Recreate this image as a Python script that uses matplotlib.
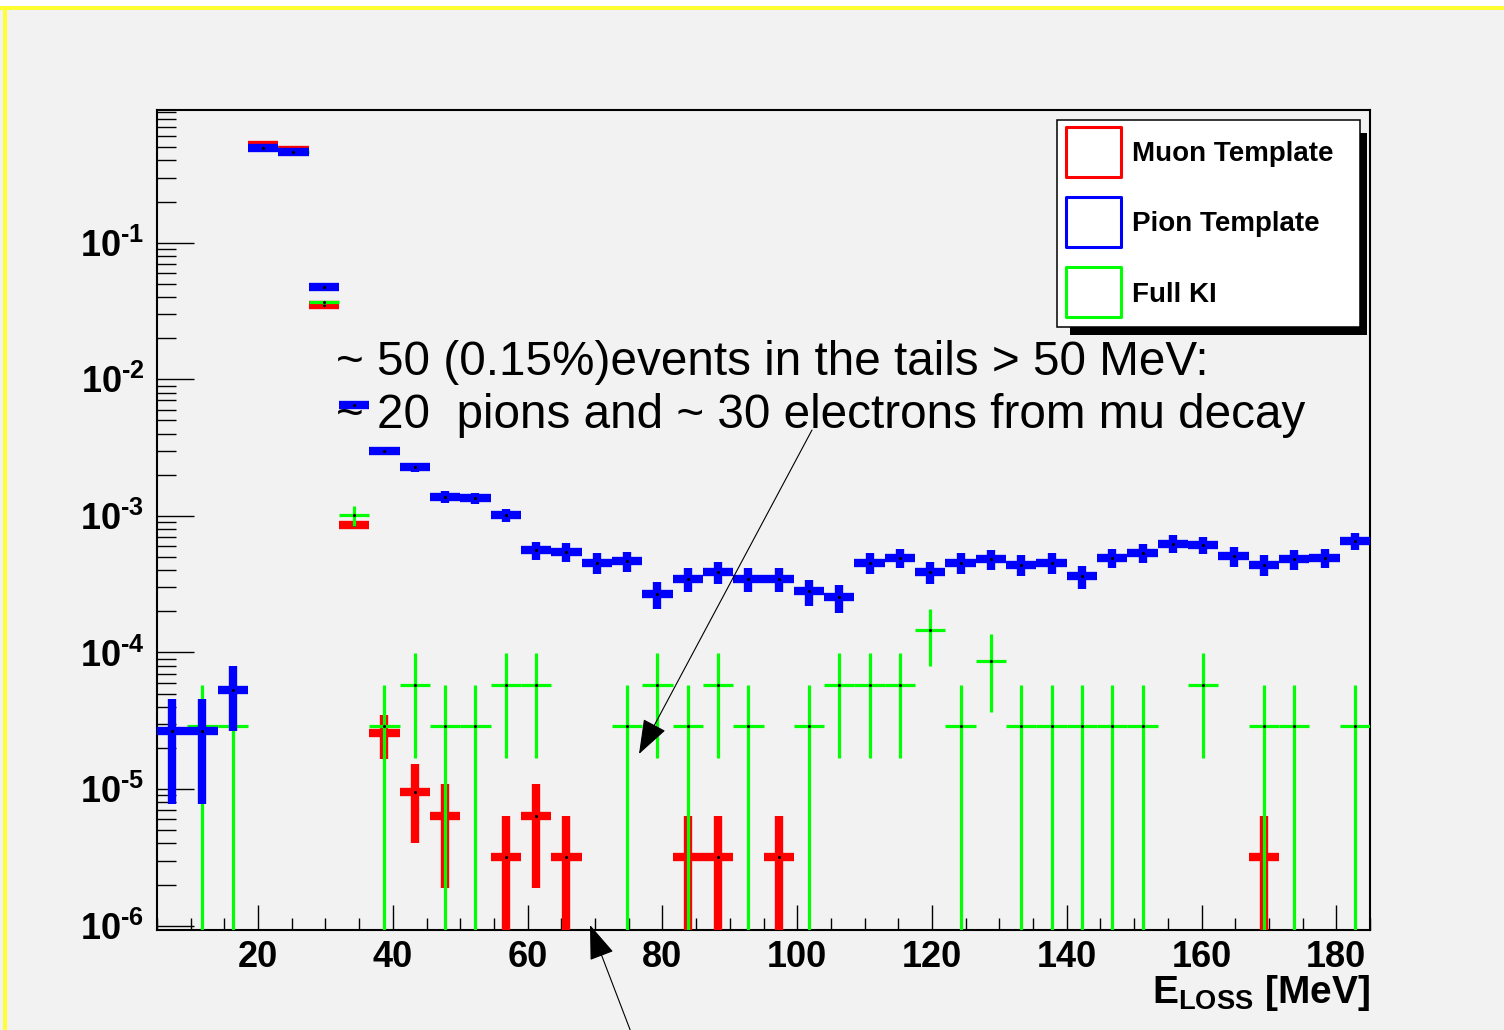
"""
Energy-loss templates (muon / pion) and the full KI sample, log scale.
"""

import numpy as np
import matplotlib
matplotlib.use("Agg")
import matplotlib.pyplot as plt
from matplotlib.patches import Rectangle
from matplotlib.ticker import MultipleLocator, LogLocator, NullFormatter

# Histogram binning (MeV)
E_MIN, E_MAX, N_BINS = 5.0, 185.0, 40

# Raw event counts per bin
muon_counts = [0, 0, 0, 160900, 148560, 10940, 267, 8, 3, 2,
               0, 1, 2, 1, 0, 0, 0, 1, 1, 0,
               1, 0, 0, 0, 0, 0, 0, 0, 0, 0,
               0, 0, 0, 0, 0, 0, 1, 0, 0, 0]
pion_counts = [2, 2, 4, 37080, 34540, 3520, 487, 223, 171, 103,
               101, 76, 42, 41, 34, 35, 20, 26, 29, 26,
               26, 21, 19, 34, 37, 29, 34, 36, 33, 34,
               27, 37, 40, 47, 46, 38, 33, 36, 37, 49]
ki_counts = [0, 1, 1, 17070, 15900, 1262, 35, 1, 2, 1,
             1, 2, 2, 0, 0, 1, 2, 1, 2, 1,
             0, 1, 2, 2, 2, 5, 1, 3, 1, 1,
             1, 1, 1, 0, 2, 0, 1, 1, 0, 1]

# Weight of one event after normalising each sample to unit area
muon_w = 3.2e-6
pion_w = 1.335e-5
ki_w = 2.9e-5

labels = ["Muon Template", "Pion Template", "Full KI"]
colors = ["#ff0000", "#0000ff", "#00ff00"]

xticks = [20, 40, 60, 80, 100, 120, 140, 160, 180]
ytick_exp = [-6, -5, -4, -3, -2, -1]

note_lines = ["~ 50 (0.15%)events in the tails > 50 MeV:",
              "~ 20  pions and ~ 30 electrons from mu decay"]

# Figure geometry (pixels of the 1504x1030 picture)
W, H = 1504, 1030


def fx(x):
    return x / W


def fy(y):
    return 1 - y / H


plt.rcParams["font.family"] = ["Liberation Sans", "DejaVu Sans"]
plt.rcParams["mathtext.fontset"] = "custom"
plt.rcParams["mathtext.rm"] = "Liberation Sans:bold"
plt.rcParams["mathtext.bf"] = "Liberation Sans:bold"
plt.rcParams["mathtext.it"] = "Liberation Sans:italic"

bg = "#f2f2f2"
fig = plt.figure(figsize=(W / 100, H / 100), dpi=100, facecolor=bg)

# slide border
fig.add_artist(Rectangle((0, fy(6)), 1, 6 / H, transform=fig.transFigure,
                         facecolor="white", edgecolor="none"))
fig.add_artist(Rectangle((0, fy(10)), 1, 4 / H, transform=fig.transFigure,
                         facecolor="#ffff33", edgecolor="none"))
fig.add_artist(Rectangle((fx(3), 0), 4 / W, fy(10), transform=fig.transFigure,
                         facecolor="#ffff33", edgecolor="none"))

ax = fig.add_axes([fx(157), fy(930), fx(1370) - fx(157), fy(110) - fy(930)])
ax.set_facecolor(bg)

edges = np.linspace(E_MIN, E_MAX, N_BINS + 1)
centers = 0.5 * (edges[1:] + edges[:-1])
half_w = 0.5 * (edges[1] - edges[0])


def draw_template(counts, w, color, lw, z):
    n = np.asarray(counts, dtype=float)
    keep = n > 0
    y = n[keep] * w
    err = np.sqrt(n[keep]) * w
    # an error reaching zero runs off the bottom of the log axis
    lo = np.minimum(err, y * (1 - 1e-9))
    ax.errorbar(centers[keep], y, xerr=half_w, yerr=[lo, err], fmt=".",
                color=color, ms=2.5, mfc="k", mec="k", elinewidth=lw,
                capsize=0, zorder=z)


draw_template(muon_counts, muon_w, colors[0], 6.0, 3)
draw_template(ki_counts, ki_w, colors[2], 2.3, 4)
draw_template(pion_counts, pion_w, colors[1], 6.0, 5)

ax.set_yscale("log")
ax.set_xlim(E_MIN, E_MAX)
ax.set_ylim(10 ** -6.0315, 10 ** -0.0286)

ax.set_xticks(xticks, [str(t) for t in xticks], fontsize=26, fontweight="bold")
ax.xaxis.set_minor_locator(MultipleLocator(5))
ax.set_yticks([10.0 ** e for e in ytick_exp],
              [r"$\mathbf{10^{\text{-}%d}}$" % -e for e in ytick_exp],
              fontsize=26)
ax.yaxis.set_minor_locator(LogLocator(base=10, subs=np.arange(2, 10), numticks=20))
ax.yaxis.set_minor_formatter(NullFormatter())

ax.tick_params(axis="x", which="major", direction="in", length=18, width=1,
               pad=7, top=False)
ax.tick_params(axis="x", which="minor", direction="in", length=8.6, width=1,
               top=False)
ax.tick_params(axis="y", which="major", direction="in", length=26.5, width=1,
               pad=9, right=False)
ax.tick_params(axis="y", which="minor", direction="in", length=13.7, width=1,
               right=False)
for s in ax.spines.values():
    s.set_linewidth(1.5)

ax.set_xlabel(r"$\mathbf{E_{LOSS}\ [MeV]}$", fontsize=28, loc="right")
ax.xaxis.set_label_coords(1.0, -0.052)
ax.xaxis.label.set_verticalalignment("top")

# note text, kept under the markers
for line, base in zip(note_lines, [375, 428]):
    ax.text(fx(336), fy(base), line, transform=fig.transFigure, fontsize=34.3,
            va="baseline", ha="left", zorder=1)

arrow = dict(arrowstyle="-|>,head_length=1.1,head_width=0.4", mutation_scale=20,
             color="black", lw=0.8, shrinkA=0, shrinkB=0)
ax.annotate("", xy=(fx(639), fy(754)), xycoords="figure fraction",
            xytext=(fx(812), fy(430)), textcoords="figure fraction",
            arrowprops=arrow, annotation_clip=False, zorder=10)
ax.annotate("", xy=(fx(590), fy(925)), xycoords="figure fraction",
            xytext=(fx(634), fy(1040)), textcoords="figure fraction",
            arrowprops=arrow, annotation_clip=False, zorder=10)

# legend box with ROOT style drop shadow
fig.add_artist(Rectangle((fx(1070), fy(335)), fx(1367) - fx(1070), fy(133) - fy(335),
                         transform=fig.transFigure, facecolor="black",
                         edgecolor="none", zorder=20))
fig.add_artist(Rectangle((fx(1057), fy(327)), fx(1360) - fx(1057), fy(120) - fy(327),
                         transform=fig.transFigure, facecolor="white",
                         edgecolor="black", lw=1.1, zorder=21))
for label, color, top, base in zip(labels, colors, [127, 197, 267], [161, 231, 302]):
    fig.add_artist(Rectangle((fx(1066), fy(top + 50)), fx(1121) - fx(1066), 50 / H,
                             transform=fig.transFigure, facecolor="white",
                             edgecolor=color, lw=2.2, joinstyle="round", zorder=22))
    fig.text(fx(1132), fy(base), label, fontsize=20, fontweight="bold",
             va="baseline", ha="left", zorder=23)

fig.savefig("out.png", dpi=100, facecolor=bg)
